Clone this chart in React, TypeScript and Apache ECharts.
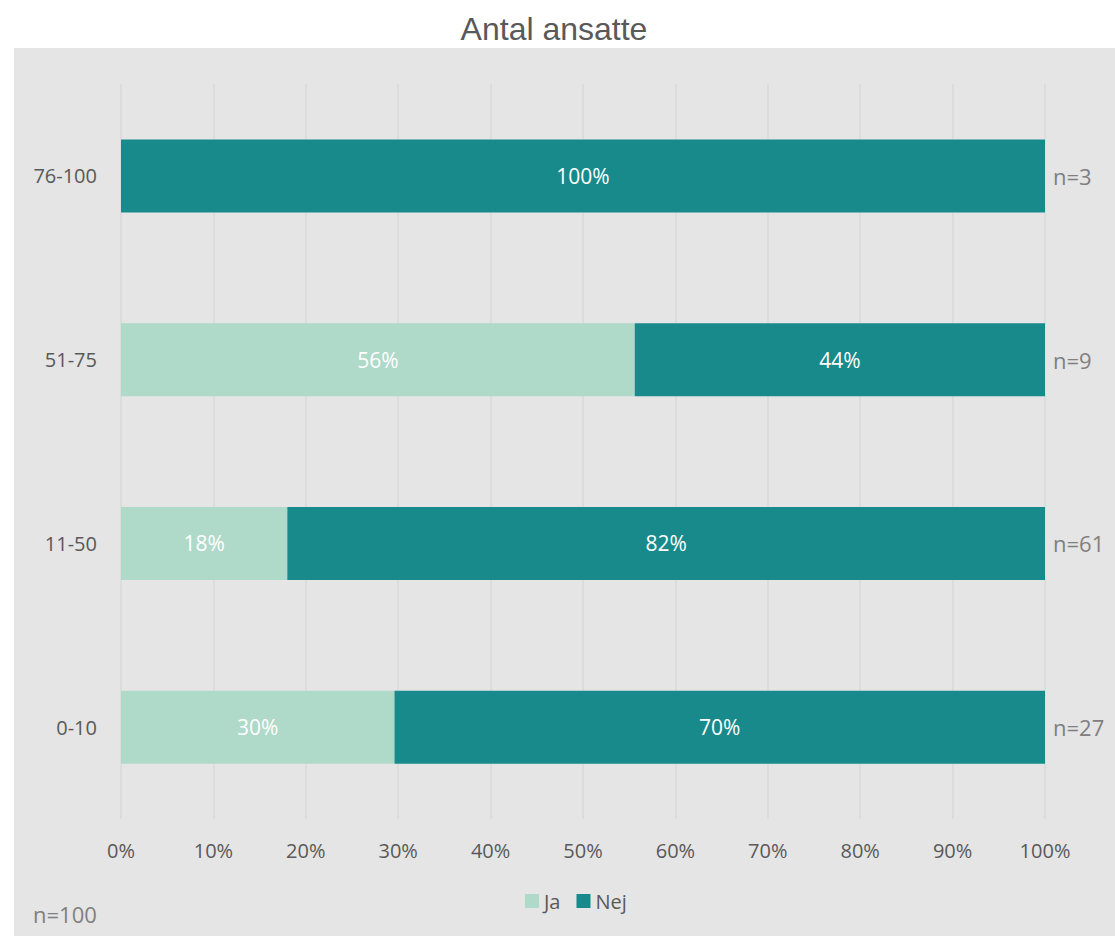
import React, { useEffect, useRef } from "react";
import * as echarts from "echarts";

const categories = ["0-10", "11-50", "51-75", "76-100"];
const jaValues = [29.6, 18.0, 55.6, 0];
const nejValues = [70.4, 82.0, 44.4, 100];
const nLabels = ["n=27", "n=61", "n=9", "n=3"];
const xTicks = [0, 10, 20, 30, 40, 50, 60, 70, 80, 90, 100];
const title = "Antal ansatte";
const totalLabel = "n=100";

export default function App() {
  const ref = useRef<HTMLDivElement>(null);
  useEffect(() => {
    document.body.style.margin = "0";
    const chart = echarts.init(ref.current!, null, { renderer: "svg" });
    const font = "'Open Sans', 'Noto Sans', sans-serif";
    const lbl = {
      show: true,
      position: "inside",
      color: "#ffffff",
      fontSize: 21,
      fontFamily: font,
      formatter: (p: any) => (p.value > 0 ? Math.round(p.value) + "%" : ""),
    };
    chart.setOption({
      animation: false,
      backgroundColor: "#ffffff",
      graphic: [
        {
          type: "rect",
          z: -10,
          silent: true,
          shape: { x: 14, y: 48, width: 1101, height: 888 },
          style: { fill: "#e5e5e5" },
        },
        {
          type: "text",
          left: 33,
          top: 903,
          style: { text: totalLabel, fill: "#808080", fontSize: 22, fontFamily: font },
        },
      ],
      title: {
        text: title,
        left: 549,
        textAlign: "center",
        top: 8,
        textStyle: { color: "#595959", fontSize: 32, fontWeight: "normal", fontFamily: "'Liberation Sans', Arial, sans-serif" },
      },
      legend: {
        bottom: 20,
        left: 520,
        itemWidth: 14,
        itemHeight: 14,
        itemGap: 16,
        icon: "rect",
        textStyle: { color: "#595959", fontSize: 20, fontFamily: font },
        data: ["Ja", "Nej"],
      },
      grid: { left: 121, right: 70, top: 84, bottom: 117, containLabel: false },
      xAxis: {
        type: "value",
        min: 0,
        max: 100,
        interval: 10,
        axisLine: { show: false },
        axisTick: { show: false },
        splitLine: { show: true, lineStyle: { color: "#d9d9d9", width: 1.5 } },
        axisLabel: {
          color: "#595959",
          fontSize: 20,
          fontFamily: font,
          margin: 21,
          formatter: (v: number) => (xTicks.includes(v) ? v + "%" : ""),
        },
      },
      yAxis: [
        {
          type: "category",
          data: categories,
          axisLine: { show: false },
          axisTick: { show: false },
          axisLabel: { color: "#595959", fontSize: 20, fontFamily: font, margin: 24 },
        },
        {
          type: "category",
          position: "right",
          data: nLabels,
          axisLine: { show: false },
          axisTick: { show: false },
          axisLabel: { color: "#808080", fontSize: 22, fontFamily: font, margin: 8, align: "left", padding: [10, 0, 0, 0] },
        },
      ],
      series: [
        {
          name: "Ja",
          type: "bar",
          stack: "t",
          barWidth: 73,
          data: jaValues,
          itemStyle: { color: "#afd9c9" },
          label: lbl,
        },
        {
          name: "Nej",
          type: "bar",
          stack: "t",
          barWidth: 73,
          data: nejValues,
          itemStyle: { color: "#188a8b" },
          label: lbl,
        },
      ],
    });
    return () => chart.dispose();
  }, []);
  return <div ref={ref} style={{ width: 1115, height: 936 }} />;
}
